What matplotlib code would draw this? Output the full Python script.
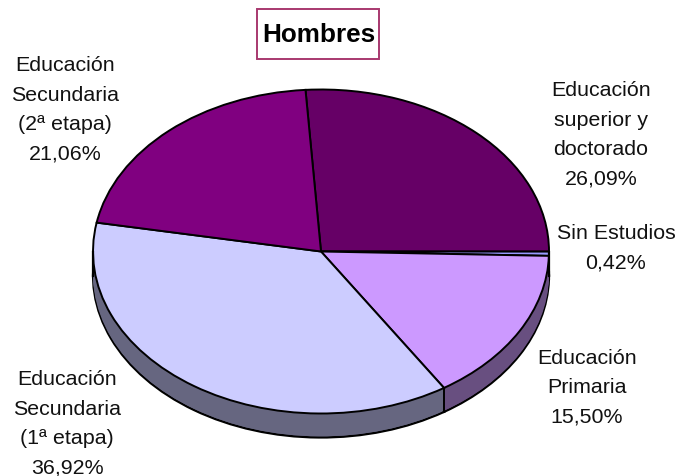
import matplotlib
matplotlib.use('Agg')
import matplotlib.pyplot as plt
import numpy as np

plt.rcParams['font.family'] = ['Liberation Sans', 'DejaVu Sans']

W, H = 675, 477

categories = ['Educación\nsuperior y\ndoctorado', 'Sin Estudios', 'Educación\nPrimaria',
              'Educación\nSecundaria\n(1ª etapa)', 'Educación\nSecundaria\n(2ª etapa)']
values = [26.09, 0.42, 15.50, 36.92, 21.06]
top_colors = ['#660066', '#9999FF', '#CC99FF', '#CCCCFF', '#800080']
side_colors = ['#330033', '#4C4C80', '#684F80', '#666680', '#400040']

# label centres in pixels
label_x = [601, 616, 587, 67, 65]
label_y = [135, 248, 388, 424, 110]

# ellipse of the top face, in pixels
cx, cy, rx, ry = 321, 252.5, 228, 162
depth = 24 / ry
start = 93.9

fig = plt.figure(figsize=(W / 100, H / 100), dpi=100)
ax = fig.add_axes([0, 0, 1, 1])

# side of the cake: bottom outline, then fill up to the top face
ax.pie(values, colors=side_colors, startangle=start, counterclock=False, radius=1, center=(0, -depth),
       wedgeprops={'edgecolor': 'black', 'linewidth': 1.6})
for d in np.linspace(depth * 0.95, 0, 16):
    ax.pie(values, colors=side_colors, startangle=start, counterclock=False, radius=1, center=(0, -d),
           wedgeprops={'edgecolor': 'none', 'linewidth': 0})

ax.plot([-1, -1], [0, -depth], color='black', lw=1.6)
ax.plot([1, 1], [0, -depth], color='black', lw=1.6)

# the one visible edge between two side pieces
a = np.radians(start - 3.6 * sum(values[:3]) * 100 / sum(values))
ax.plot([np.cos(a), np.cos(a)], [np.sin(a), np.sin(a) - depth], color='black', lw=1.4)

ax.pie(values, colors=top_colors, startangle=start, counterclock=False, radius=1, center=(0, 0),
       wedgeprops={'edgecolor': 'black', 'linewidth': 1.4})

# pie() forces a round shape, flatten it again
ax.set_aspect('auto')
ax.set_xlim(-cx / rx, (W - cx) / rx)
ax.set_ylim((cy - H) / ry, cy / ry)
ax.set_axis_off()

for name, v, x, y in zip(categories, values, label_x, label_y):
    txt = name + '\n' + f'{v:.2f}'.replace('.', ',') + '%'
    fig.text(x / W, 1 - y / H, txt, ha='center', va='center', multialignment='center', fontsize=15.4,
             color='#111111', linespacing=1.69)

fig.text(319 / W, 1 - 35 / H, 'Hombres', ha='center', va='center', fontsize=18.8, fontweight='bold',
         color='black')
fig.add_artist(plt.Rectangle((257 / W, 1 - 60 / H), 122 / W, 50 / H, transform=fig.transFigure,
                             facecolor='none', edgecolor='#A8386F', linewidth=1.4))

fig.savefig('out.png', dpi=100)
